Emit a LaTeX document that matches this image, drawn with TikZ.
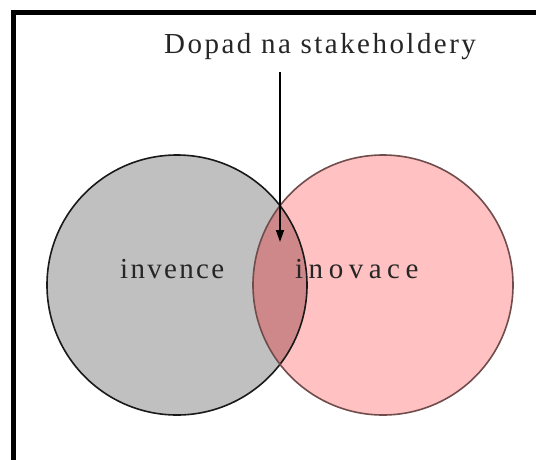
\documentclass[tikz,border=0pt]{standalone}
\usepackage{fontspec}
\setmainfont{Liberation Serif}
\usetikzlibrary{arrows.meta}
\definecolor{invgray}{RGB}{192,192,192}
\definecolor{inopink}{RGB}{255,193,193}
\definecolor{overlap}{RGB}{207,136,138}
\begin{document}
\begin{tikzpicture}[x=1pt,y=-1pt,
  lbl/.style={font=\fontsize{29}{34}\selectfont\addfontfeature{LetterSpace=#1},
              inner sep=0pt, text=black!85},
  lbl/.default=8,
  ring/.style={circle, minimum size=260pt, inner sep=0pt, line width=1.6pt, draw=black!90},
  pointer/.style={line width=1.5pt, -{Triangle[length=12pt,width=8pt]}}]
\useasboundingbox (0,0) rectangle (536,459);
\clip (0,0) rectangle (536,459);
\fill[white] (0,0) rectangle (536,459);
% outer frame (only top and left edges fall inside the page)
\draw[line width=4.6pt] (13.3,12.3) rectangle (580,500);
% the two sets
\fill[invgray] (177,285) circle (130pt);
\fill[inopink] (383,285) circle (130pt);
\begin{scope}
  \clip (177,285) circle (130pt);
  \fill[overlap] (383,285) circle (130pt);
\end{scope}
\node[ring] (inv) at (177,285) {};
\node[ring, draw=black!80!red!70] (ino) at (383,285) {};
% labels
\node[lbl=8.5, anchor=base west] (title) at (164,53) {Dopad na stakeholdery};
\node[lbl=8, anchor=base west] (tinv) at (120,278) {invence};
\node[lbl=19, anchor=base west] (tino) at (295,278) {inovace};
% pointer into the overlap
\coordinate (src) at (280,72);
\coordinate (tip) at (280,242);
\draw[pointer] (src) -- (tip);
\end{tikzpicture}
\end{document}
